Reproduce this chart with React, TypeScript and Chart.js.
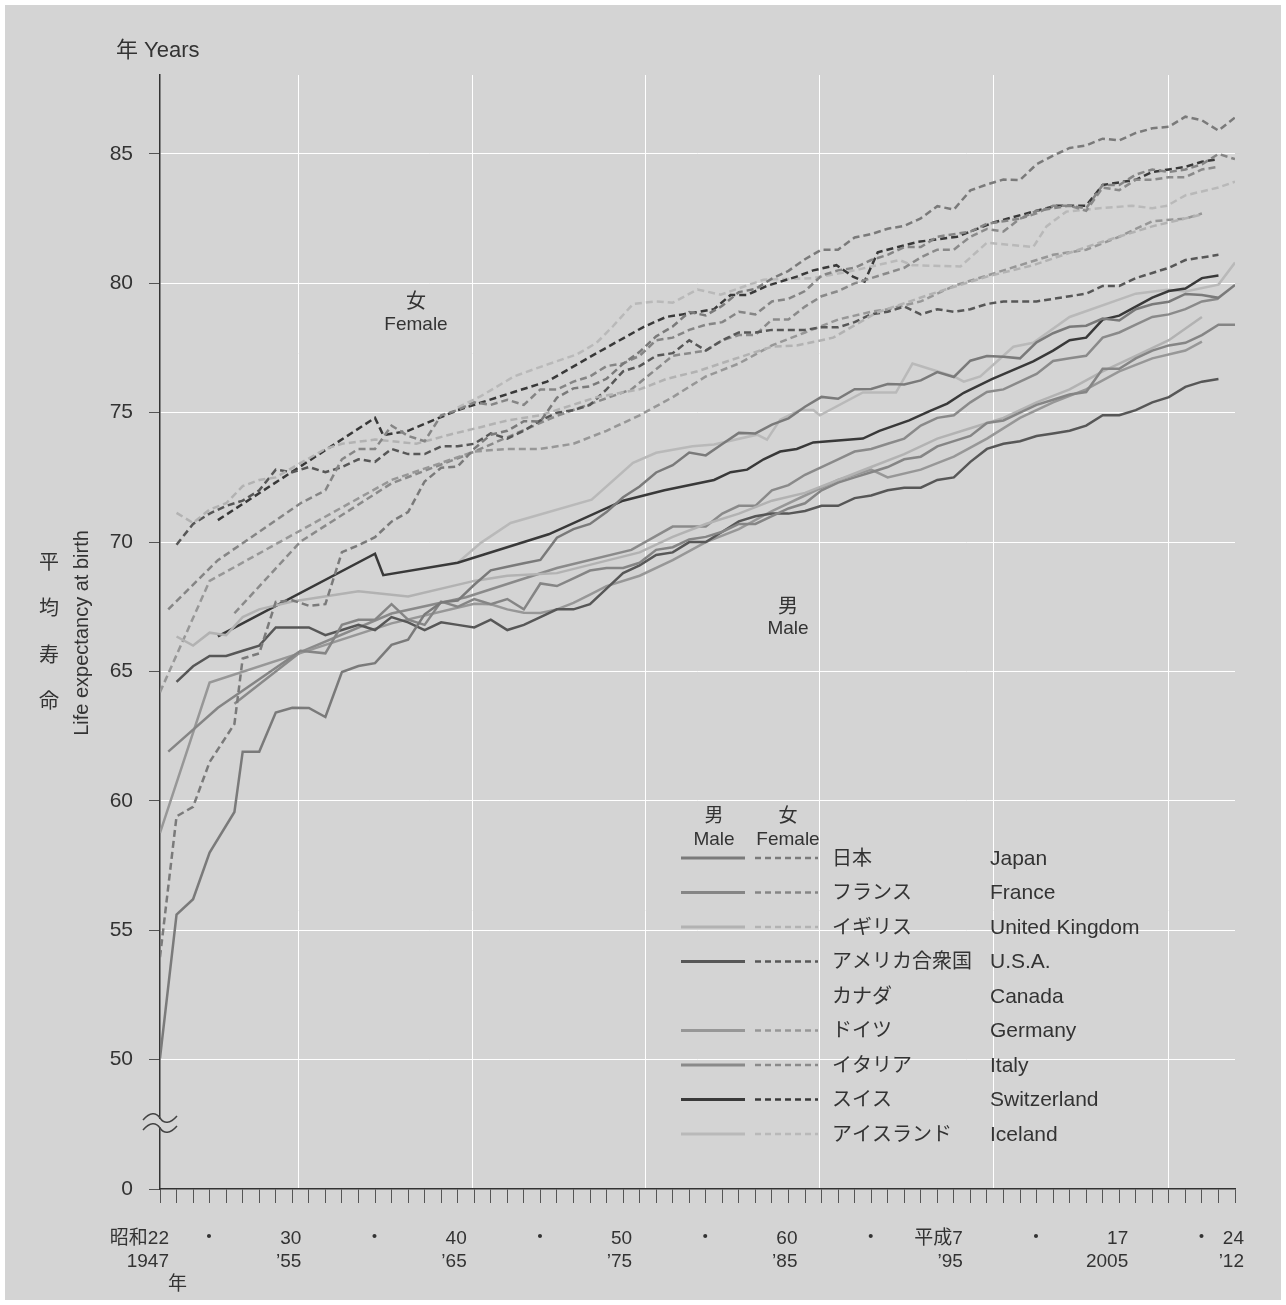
import React, { useEffect, useRef } from "react";
import { Chart, registerables } from "chart.js";

Chart.register(...registerables);

// ---------- data ----------
const countriesJa = ["日本", "フランス", "イギリス", "アメリカ合衆国", "カナダ", "ドイツ", "イタリア", "スイス", "アイスランド"];
const countriesEn = ["Japan", "France", "United Kingdom", "U.S.A.", "Canada", "Germany", "Italy", "Switzerland", "Iceland"];
const countryColors = ["#7a7a7a", "#858585", "#b2b2b2", "#575757", "", "#979797", "#8a8a8a", "#393939", "#b9b9b9"];

const xTickYears = Array.from({ length: 66 }, (_, i) => 1947 + i);
const xLabelYears = [1947, 1950, 1955, 1960, 1965, 1970, 1975, 1980, 1985, 1990, 1995, 2000, 2005, 2010, 2012];
const xLabelTop = ["昭和22", "・", "30", "・", "40", "・", "50", "・", "60", "・", "平成7", "・", "17", "・", "24"];
const xLabelBottom = ["1947", "", "’55", "", "’65", "", "’75", "", "’85", "", "’95", "", "2005", "", "’12"];
const xGridYears = [1955.37, 1965.9, 1976.36, 1986.9, 1997.42, 2007.95];

const yTickValues = [45, 50, 55, 60, 65, 70, 75, 80, 85];
const yTickLabels = ["0", "50", "55", "60", "65", "70", "75", "80", "85"];

const japanMale = [[1947,50.06],[1948,55.6],[1949,56.2],[1950,58.0],[1951.5,59.57],[1952,61.9],[1953,61.9],[1954,63.41],[1955,63.6],[1956,63.59],[1957,63.24],[1958,64.98],[1959,65.21],[1960,65.32],[1961,66.03],[1962,66.23],[1963,67.21],[1964,67.67],[1965,67.74],[1966,68.35],[1967,68.91],[1968,69.05],[1969,69.18],[1970,69.31],[1971,70.17],[1972,70.5],[1973,70.7],[1974,71.16],[1975,71.73],[1976,72.15],[1977,72.69],[1978,72.97],[1979,73.46],[1980,73.35],[1981,73.79],[1982,74.22],[1983,74.2],[1984,74.54],[1985,74.78],[1986,75.23],[1987,75.61],[1988,75.54],[1989,75.91],[1990,75.92],[1991,76.11],[1992,76.09],[1993,76.25],[1994,76.57],[1995,76.38],[1996,77.01],[1997,77.19],[1998,77.16],[1999,77.1],[2000,77.72],[2001,78.07],[2002,78.32],[2003,78.36],[2004,78.64],[2005,78.56],[2006,79.0],[2007,79.19],[2008,79.29],[2009,79.59],[2010,79.55],[2011,79.44],[2012,79.94]];
const japanFemale = [[1947,53.96],[1948,59.4],[1949,59.77],[1950,61.5],[1951.5,62.97],[1952,65.5],[1953,65.7],[1954,67.69],[1955,67.75],[1956,67.54],[1957,67.6],[1958,69.61],[1959,69.88],[1960,70.19],[1961,70.79],[1962,71.16],[1963,72.34],[1964,72.87],[1965,72.92],[1966,73.61],[1967,74.15],[1968,74.3],[1969,74.67],[1970,74.66],[1971,75.58],[1972,75.94],[1973,76.02],[1974,76.31],[1975,76.89],[1976,77.35],[1977,77.95],[1978,78.33],[1979,78.89],[1980,78.76],[1981,79.13],[1982,79.66],[1983,79.78],[1984,80.18],[1985,80.48],[1986,80.93],[1987,81.3],[1988,81.3],[1989,81.77],[1990,81.9],[1991,82.11],[1992,82.22],[1993,82.51],[1994,82.98],[1995,82.85],[1996,83.59],[1997,83.82],[1998,84.01],[1999,83.99],[2000,84.6],[2001,84.93],[2002,85.23],[2003,85.33],[2004,85.59],[2005,85.52],[2006,85.81],[2007,85.99],[2008,86.05],[2009,86.44],[2010,86.3],[2011,85.9],[2012,86.41]];

const franceMale = [[1947.5,61.9],[1950.5,63.6],[1955.5,65.8],[1957,65.7],[1958,66.8],[1959,67.0],[1960,67.0],[1961,67.6],[1962,67.0],[1963,66.8],[1964,67.7],[1965,67.5],[1966,67.8],[1967,67.6],[1968,67.8],[1969,67.4],[1970,68.4],[1971,68.3],[1972,68.6],[1973,68.9],[1974,69.0],[1975,69.0],[1976,69.2],[1977,69.7],[1978,69.8],[1979,70.1],[1980,70.2],[1981,70.4],[1982,70.7],[1983,70.7],[1984,71.0],[1985,71.3],[1986,71.5],[1987,72.0],[1988,72.3],[1989,72.5],[1990,72.7],[1991,72.9],[1992,73.2],[1993,73.3],[1994,73.7],[1995,73.9],[1996,74.1],[1997,74.6],[1998,74.7],[1999,75.0],[2000,75.3],[2001,75.5],[2002,75.7],[2003,75.8],[2004,76.7],[2005,76.7],[2006,77.1],[2007,77.4],[2008,77.6],[2009,77.7],[2010,78.0],[2011,78.4],[2012,78.4]];
const franceFemale = [[1947.5,67.4],[1950.5,69.3],[1955.5,71.5],[1957,72.0],[1958,73.2],[1959,73.6],[1960,73.6],[1961,74.5],[1962,74.1],[1963,73.9],[1964,74.9],[1965,75.1],[1966,75.4],[1967,75.3],[1968,75.5],[1969,75.3],[1970,75.9],[1971,75.9],[1972,76.2],[1973,76.4],[1974,76.8],[1975,76.9],[1976,77.2],[1977,77.8],[1978,77.9],[1979,78.2],[1980,78.4],[1981,78.5],[1982,78.9],[1983,78.8],[1984,79.3],[1985,79.4],[1986,79.7],[1987,80.3],[1988,80.5],[1989,80.6],[1990,80.9],[1991,81.1],[1992,81.4],[1993,81.4],[1994,81.8],[1995,81.9],[1996,82.0],[1997,82.3],[1998,82.4],[1999,82.5],[2000,82.8],[2001,82.9],[2002,83.0],[2003,82.9],[2004,83.8],[2005,83.8],[2006,84.2],[2007,84.4],[2008,84.3],[2009,84.4],[2010,84.6],[2011,85.0],[2012,84.8]];

const ukMale = [[1948,66.35],[1949,66.0],[1950,66.5],[1951,66.4],[1952,67.1],[1953,67.4],[1955,67.7],[1959,68.1],[1962,67.9],[1966,68.5],[1968,68.7],[1971,68.8],[1976,69.6],[1978,70.2],[1980,70.7],[1982,71.1],[1984,71.6],[1986,71.9],[1988,72.4],[1990,72.9],[1992,73.4],[1994,74.0],[1996,74.4],[1998,74.8],[2000,75.4],[2002,75.9],[2004,76.6],[2006,77.2],[2008,77.8],[2010,78.7]];
const ukFemale = [[1948,71.13],[1949,70.74],[1950,71.26],[1951,71.5],[1952,72.16],[1953,72.4],[1954,72.5],[1955,72.87],[1957,73.6],[1958,73.8],[1960,73.96],[1961,73.9],[1962.5,73.8],[1964.5,74.15],[1966.5,74.46],[1968,74.7],[1970,74.9],[1973.4,75.6],[1976,75.9],[1977.6,76.3],[1979.5,76.6],[1981.6,77.05],[1984,77.55],[1985.5,77.6],[1987,77.8],[1987.7,77.9],[1990.3,78.86],[1993.7,79.6],[1997,80.26],[1999.8,80.7],[2003.8,81.57],[2007,82.2],[2010,82.66]];

const usaMale = [[1948,64.6],[1949,65.2],[1950,65.6],[1951,65.6],[1952,65.8],[1953,66.0],[1954,66.7],[1955,66.7],[1956,66.7],[1957,66.4],[1958,66.6],[1959,66.8],[1960,66.6],[1961,67.1],[1962,66.9],[1963,66.6],[1964,66.9],[1965,66.8],[1966,66.7],[1967,67.0],[1968,66.6],[1969,66.8],[1970,67.1],[1971,67.4],[1972,67.4],[1973,67.6],[1974,68.2],[1975,68.8],[1976,69.1],[1977,69.5],[1978,69.6],[1979,70.0],[1980,70.0],[1981,70.4],[1982,70.8],[1983,71.0],[1984,71.1],[1985,71.1],[1986,71.2],[1987,71.4],[1988,71.4],[1989,71.7],[1990,71.8],[1991,72.0],[1992,72.1],[1993,72.1],[1994,72.4],[1995,72.5],[1996,73.1],[1997,73.6],[1998,73.8],[1999,73.9],[2000,74.1],[2001,74.2],[2002,74.3],[2003,74.5],[2004,74.9],[2005,74.9],[2006,75.1],[2007,75.4],[2008,75.6],[2009,76.0],[2010,76.2],[2011,76.3]];
const usaFemale = [[1948,69.9],[1949,70.7],[1950,71.1],[1951,71.4],[1952,71.6],[1953,72.0],[1954,72.8],[1955,72.7],[1956,72.9],[1957,72.7],[1958,72.9],[1959,73.2],[1960,73.1],[1961,73.6],[1962,73.4],[1963,73.4],[1964,73.7],[1965,73.7],[1966,73.8],[1967,74.2],[1968,74.0],[1969,74.3],[1970,74.7],[1971,75.0],[1972,75.1],[1973,75.3],[1974,75.9],[1975,76.6],[1976,76.8],[1977,77.2],[1978,77.3],[1979,77.8],[1980,77.4],[1981,77.8],[1982,78.1],[1983,78.1],[1984,78.2],[1985,78.2],[1986,78.2],[1987,78.3],[1988,78.3],[1989,78.5],[1990,78.8],[1991,78.9],[1992,79.1],[1993,78.8],[1994,79.0],[1995,78.9],[1996,79.0],[1997,79.2],[1998,79.3],[1999,79.3],[2000,79.3],[2001,79.4],[2002,79.5],[2003,79.6],[2004,79.9],[2005,79.9],[2006,80.2],[2007,80.4],[2008,80.6],[2009,80.9],[2010,81.0],[2011,81.1]];

const germanyMale = [[1947,58.76],[1950,64.57],[1961,66.86],[1966,67.62],[1967,67.6],[1968,67.4],[1969,67.27],[1970,67.26],[1971,67.4],[1972,67.65],[1973,67.97],[1974,68.3],[1976,68.7],[1978,69.3],[1980,70.0],[1982,70.5],[1984,71.2],[1986,71.8],[1988,72.4],[1990,72.8],[1991,72.5],[1993,72.8],[1995,73.3],[1997,74.0],[1999,74.8],[2001,75.4],[2003,75.9],[2005,76.6],[2007,77.1],[2009,77.4],[2010,77.75]];
const germanyFemale = [[1947,64.2],[1950,68.5],[1961,72.4],[1966,73.5],[1968,73.6],[1970,73.6],[1972,73.8],[1974,74.3],[1976,74.9],[1978,75.6],[1980,76.4],[1982,76.9],[1984,77.6],[1986,78.1],[1988,78.6],[1990,78.9],[1991,79.0],[1993,79.3],[1995,79.9],[1997,80.3],[1999,80.7],[2001,81.1],[2003,81.3],[2005,81.8],[2007,82.4],[2009,82.5],[2010,82.7]];

const italyMale = [[1951.5,63.75],[1955.5,65.75],[1961,67.24],[1965.5,67.87],[1971,69.0],[1975.5,69.7],[1978,70.6],[1980,70.6],[1981,71.1],[1982,71.4],[1983,71.4],[1984,72.0],[1985,72.2],[1986,72.6],[1987,72.9],[1988,73.2],[1989,73.5],[1990,73.6],[1991,73.8],[1992,74.0],[1993,74.5],[1994,74.8],[1995,74.9],[1996,75.4],[1997,75.8],[1998,75.9],[1999,76.2],[2000,76.5],[2001,77.0],[2002,77.1],[2003,77.2],[2004,77.9],[2005,78.1],[2006,78.4],[2007,78.7],[2008,78.8],[2009,79.0],[2010,79.3],[2011,79.4]];
const italyFemale = [[1951.5,67.25],[1955.5,70.02],[1961,72.27],[1965.5,73.36],[1971,74.88],[1975.5,75.9],[1978,77.2],[1980,77.4],[1981,77.8],[1982,78.0],[1983,78.0],[1984,78.6],[1985,78.6],[1986,79.1],[1987,79.5],[1988,79.7],[1989,80.0],[1990,80.2],[1991,80.4],[1992,80.6],[1993,81.0],[1994,81.3],[1995,81.3],[1996,81.8],[1997,82.1],[1998,82.0],[1999,82.5],[2000,82.7],[2001,83.0],[2002,83.0],[2003,82.8],[2004,83.7],[2005,83.6],[2006,84.0],[2007,84.0],[2008,84.1],[2009,84.1],[2010,84.4],[2011,84.5]];

const swissMale = [[1950.5,66.36],[1960,69.55],[1960.5,68.72],[1965,69.2],[1970.5,70.3],[1975,71.6],[1977.5,72.0],[1980.5,72.4],[1981.5,72.7],[1982.5,72.8],[1983.5,73.2],[1984.5,73.5],[1985.5,73.6],[1986.5,73.85],[1989.5,74.0],[1990.5,74.3],[1992.3,74.7],[1993.5,75.05],[1994.6,75.35],[1995.6,75.77],[1997.3,76.3],[1999.8,76.98],[2001,77.4],[2002,77.8],[2003,77.9],[2004,78.6],[2005,78.75],[2006,79.1],[2007,79.45],[2008,79.7],[2009,79.8],[2010,80.2],[2011,80.3]];
const swissFemale = [[1950.5,70.85],[1960,74.8],[1960.5,74.13],[1962,74.3],[1965,75.1],[1968.4,75.8],[1970.4,76.2],[1973.4,77.3],[1976.2,78.3],[1977.6,78.7],[1978.6,78.8],[1979.6,78.9],[1980.5,79.0],[1981.5,79.55],[1982.5,79.55],[1983.7,79.9],[1985.5,80.26],[1986.5,80.5],[1987.9,80.7],[1988.9,80.26],[1989.6,80.07],[1990.4,81.2],[1992.8,81.6],[1995.2,81.8],[1997.4,82.35],[1999.8,82.77],[2001.2,83.0],[2003,83.0],[2004,83.8],[2006,84.0],[2007,84.3],[2008,84.4],[2009,84.5],[2010,84.7],[2011,84.8]];

const icelandMale = [[1965,69.2],[1966.4,69.97],[1968.2,70.74],[1973.1,71.64],[1975.6,73.06],[1977,73.45],[1979.2,73.7],[1980.5,73.77],[1983.1,74.15],[1983.7,73.96],[1984.5,74.73],[1985.7,75.1],[1986.5,75.1],[1986.9,74.9],[1989.5,75.78],[1991.5,75.78],[1992.5,76.9],[1995,76.4],[1995.6,76.2],[1996.6,76.4],[1998.6,77.55],[1999.8,77.7],[2002,78.7],[2006,79.6],[2007.9,79.75],[2009,79.68],[2011,79.95],[2012,80.8]];
const icelandFemale = [[1965,75.2],[1966.4,75.64],[1968.4,76.4],[1970.4,76.86],[1972.2,77.25],[1973.4,77.7],[1974.4,78.35],[1975.6,79.2],[1977,79.3],[1978,79.25],[1979.5,79.76],[1980.9,79.56],[1983.5,80.14],[1986.5,80.2],[1989,80.5],[1991.7,80.9],[1992.5,80.7],[1995.4,80.65],[1997,81.57],[1999.8,81.4],[2000.6,82.2],[2001.8,82.77],[2003.8,82.9],[2005.8,83.0],[2007,82.9],[2007.9,83.0],[2009,83.4],[2010,83.55],[2011,83.7],[2012,83.93]];

const seriesMale = [japanMale, franceMale, ukMale, usaMale, null, germanyMale, italyMale, swissMale, icelandMale];
const seriesFemale = [japanFemale, franceFemale, ukFemale, usaFemale, null, germanyFemale, italyFemale, swissFemale, icelandFemale];

// ---------- styling ----------
const W = 1286;
const H = 1305;
const BG = "#d4d4d4";
const TEXT = "#333333";
const FONT = '"Liberation Sans", Arial, "Noto Sans CJK JP", sans-serif';
const DASH = [7, 4];

function drawText(ctx: CanvasRenderingContext2D, s: string, x: number, y: number, align: CanvasTextAlign = "center", size = 20) {
  ctx.font = `${size}px ${FONT}`;
  ctx.textAlign = align;
  ctx.textBaseline = "middle";
  ctx.fillStyle = TEXT;
  ctx.fillText(s, x, y);
}

const decorPlugin = {
  id: "decor",
  beforeDraw(chart: any) {
    const ctx = chart.ctx as CanvasRenderingContext2D;
    ctx.save();
    ctx.fillStyle = "#ffffff";
    ctx.fillRect(0, 0, W, H);
    ctx.fillStyle = BG;
    ctx.fillRect(5, 5, W - 10, H - 10);
    ctx.restore();
  },
  afterDraw(chart: any) {
    const ctx = chart.ctx as CanvasRenderingContext2D;
    const xs = chart.scales.x;
    const ys = chart.scales.y;
    ctx.save();
    // unit labels & titles
    drawText(ctx, "年 Years", 116, 51, "left", 22);
    const vchars = ["平", "均", "寿", "命"];
    vchars.forEach((c, i) => drawText(ctx, c, 49, 563 + i * 46.5, "center", 20));
    ctx.save();
    ctx.translate(82, 633);
    ctx.rotate(-Math.PI / 2);
    drawText(ctx, "Life expectancy at birth", 0, 0, "center", 20);
    ctx.restore();
    drawText(ctx, "年", xs.getPixelForValue(1948) + 1, 1285, "center", 19);

    // series labels
    drawText(ctx, "女", 416, 302, "center", 20);
    drawText(ctx, "Female", 416, 325, "center", 19);
    drawText(ctx, "男", 788, 607, "center", 20);
    drawText(ctx, "Male", 788, 629, "center", 19);

    // legend
    drawText(ctx, "男", 714, 817, "center", 19);
    drawText(ctx, "Male", 714, 840, "center", 19);
    drawText(ctx, "女", 788, 817, "center", 19);
    drawText(ctx, "Female", 788, 840, "center", 19);
    countriesJa.forEach((ja, i) => {
      const y = 858 + i * 34.5;
      const col = countryColors[i];
      if (col) {
        ctx.lineWidth = 3;
        ctx.strokeStyle = col;
        ctx.setLineDash([]);
        ctx.beginPath();
        ctx.moveTo(681, y);
        ctx.lineTo(745, y);
        ctx.stroke();
        ctx.setLineDash([6, 4]);
        ctx.lineWidth = 2.5;
        ctx.beginPath();
        ctx.moveTo(755, y);
        ctx.lineTo(818, y);
        ctx.stroke();
        ctx.setLineDash([]);
      }
      drawText(ctx, ja, 832, y + 1, "left", 20);
      drawText(ctx, countriesEn[i], 990, y + 1, "left", 21);
    });

    // axis break symbol
    const bx = xs.left;
    const by = ys.getPixelForValue(47.55);
    const wave = (dy: number) => {
      ctx.moveTo(bx - 17, by + dy + 2);
      ctx.bezierCurveTo(bx - 10, by + dy - 6, bx - 4, by + dy - 6, bx, by + dy);
      ctx.bezierCurveTo(bx + 4, by + dy + 6, bx + 10, by + dy + 6, bx + 17, by + dy - 2);
    };
    ctx.fillStyle = BG;
    ctx.fillRect(bx - 3, by - 4, 6, 8);
    ctx.strokeStyle = "#444444";
    ctx.lineWidth = 1.5;
    ctx.beginPath();
    wave(-5);
    ctx.stroke();
    ctx.beginPath();
    wave(5);
    ctx.stroke();
    ctx.restore();
  },
};

function buildDatasets() {
  const ds: any[] = [];
  countriesEn.forEach((name, i) => {
    const col = countryColors[i];
    const m = seriesMale[i];
    const f = seriesFemale[i];
    if (f) {
      ds.push({
        label: name + " female",
        data: f.map(([x, y]) => ({ x, y })),
        borderColor: col,
        borderWidth: 2.5,
        borderDash: DASH,
        pointRadius: 0,
        tension: 0,
        fill: false,
      });
    }
    if (m) {
      ds.push({
        label: name + " male",
        data: m.map(([x, y]) => ({ x, y })),
        borderColor: col,
        borderWidth: 2.5,
        pointRadius: 0,
        tension: 0,
        fill: false,
      });
    }
  });
  return ds;
}

export default function App() {
  const ref = useRef<HTMLCanvasElement | null>(null);
  useEffect(() => {
    document.body.style.margin = "0";
    const canvas = ref.current!;
    const chart = new Chart(canvas, {
      type: "line",
      data: { datasets: buildDatasets() },
      options: {
        animation: false,
        responsive: false,
        devicePixelRatio: 1,
        events: [],
        layout: { padding: { left: 0, top: 75, right: 51, bottom: 0 } },
        plugins: { legend: { display: false }, tooltip: { enabled: false }, title: { display: false } },
        scales: {
          x: {
            type: "linear",
            position: "bottom",
            min: 1947,
            max: 2012,
            afterBuildTicks: (s: any) => {
              s.ticks = xTickYears.map((v) => ({ value: v }));
            },
            afterFit: (s: any) => {
              s.height = H - 1189;
            },
            grid: { drawOnChartArea: false, drawTicks: true, tickLength: 14, tickColor: "#555555", tickWidth: 1 },
            border: { display: true, color: "#333333", width: 1.5 },
            ticks: {
              autoSkip: false,
              maxRotation: 0,
              minRotation: 0,
              align: "end",
              crossAlign: "near",
              labelOffset: 9,
              padding: 24,
              color: TEXT,
              font: { family: FONT, size: 19, lineHeight: 1.21 },
              callback: (v: any) => {
                const i = xLabelYears.indexOf(Number(v));
                if (i < 0) return "";
                return xLabelBottom[i] ? [xLabelTop[i], xLabelBottom[i]] : xLabelTop[i];
              },
            },
          },
          xg: {
            type: "linear",
            position: "top",
            min: 1947,
            max: 2012,
            afterBuildTicks: (s: any) => {
              s.ticks = xGridYears.map((v) => ({ value: v }));
            },
            afterFit: (s: any) => {
              s.height = 0;
            },
            grid: { color: "#ffffff", lineWidth: 1, drawTicks: false },
            border: { display: false },
            ticks: { display: false },
          },
          y: {
            type: "linear",
            min: 45,
            max: 88.05,
            afterBuildTicks: (s: any) => {
              s.ticks = yTickValues.map((v) => ({ value: v }));
            },
            afterFit: (s: any) => {
              s.width = 160;
            },
            grid: {
              color: (c: any) => (c.tick && c.tick.value === 45 ? "rgba(0,0,0,0)" : "#ffffff"),
              lineWidth: 1,
              drawTicks: true,
              tickLength: 11,
              tickColor: "#555555",
            },
            border: { display: true, color: "#333333", width: 1.5 },
            ticks: {
              padding: 16,
              color: TEXT,
              font: { family: FONT, size: 21 },
              callback: (v: any) => {
                const i = yTickValues.indexOf(Number(v));
                return i < 0 ? "" : yTickLabels[i];
              },
            },
          },
        },
      } as any,
      plugins: [decorPlugin],
    });
    return () => chart.destroy();
  }, []);
  return (
    <div style={{ width: W, height: H, position: "relative" }}>
      <canvas ref={ref} width={W} height={H} style={{ display: "block", width: W, height: H }} />
    </div>
  );
}
